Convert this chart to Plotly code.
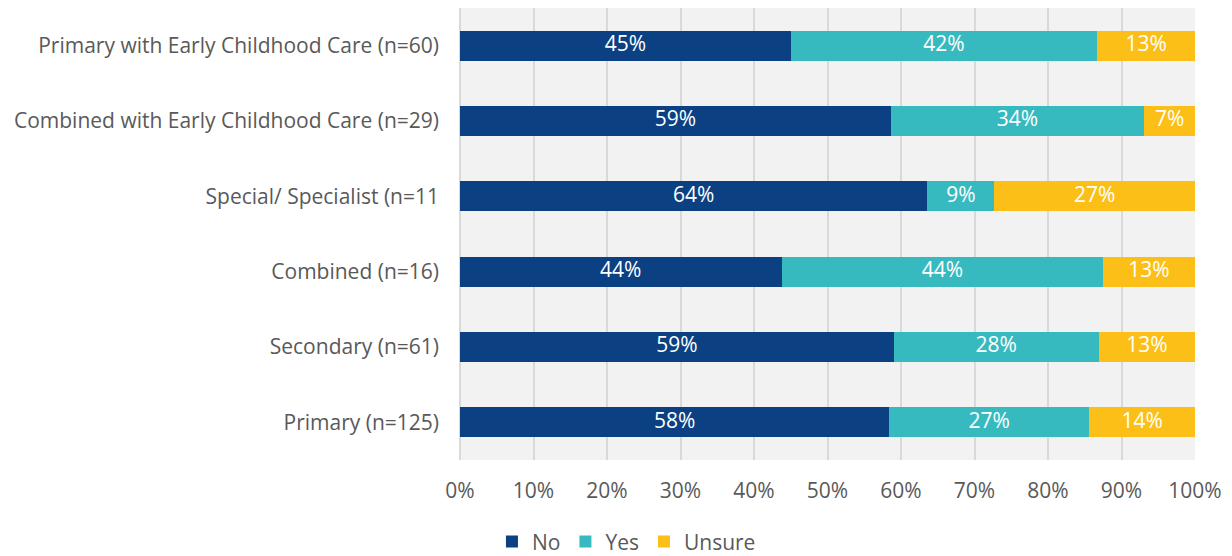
import plotly.graph_objects as go

# Data (bottom to top, as drawn)
categories = [
    "Primary (n=125)",
    "Secondary (n=61)",
    "Combined (n=16)",
    "Special/ Specialist (n=11",
    "Combined with Early Childhood Care (n=29)",
    "Primary with Early Childhood Care (n=60)",
]
no_vals = [58.4, 59.0, 43.75, 63.6, 58.6, 45.0]
yes_vals = [27.2, 27.9, 43.75, 9.1, 34.5, 41.7]
unsure_vals = [14.4, 13.1, 12.5, 27.3, 6.9, 13.3]
no_text = ["58%", "59%", "44%", "64%", "59%", "45%"]
yes_text = ["27%", "28%", "44%", "9%", "34%", "42%"]
unsure_text = ["14%", "13%", "13%", "27%", "7%", "13%"]
x_ticks = [0, 10, 20, 30, 40, 50, 60, 70, 80, 90, 100]

series = [
    ("No", no_vals, no_text, "#0b4183"),
    ("Yes", yes_vals, yes_text, "#37babf"),
    ("Unsure", unsure_vals, unsure_text, "#fcbf17"),
]

fig = go.Figure()
base = [0.0] * len(categories)
for name, vals, txt, color in series:
    fig.add_trace(go.Bar(
        y=categories, x=vals, name=name, orientation="h",
        marker=dict(color=color, line=dict(width=0)),
        hoverinfo="skip",
    ))
    # labels at segment centres, full size (bars would shrink them)
    mids = [b + v / 2 for b, v in zip(base, vals)]
    fig.add_trace(go.Scatter(
        x=mids, y=categories, mode="text", text=txt,
        textposition="middle center",
        textfont=dict(color="white", size=21),
        showlegend=False, hoverinfo="skip",
    ))
    base = [b + v for b, v in zip(base, vals)]

fig.update_layout(
    barmode="stack",
    bargap=0.6,
    width=1232, height=556,
    margin=dict(l=452, r=45, t=0, b=104),
    paper_bgcolor="white",
    plot_bgcolor="#f2f2f2",
    font=dict(family="Open Sans, Noto Sans, sans-serif", size=21, color="#595959"),
    legend=dict(
        orientation="h", xref="container", yref="container",
        x=0.502, xanchor="center", y=0.04, yanchor="middle",
        font=dict(size=21, color="#595959"), traceorder="normal",
        itemwidth=30,
    ),
    showlegend=True,
)
fig.update_xaxes(
    range=[0, 100], tickvals=x_ticks,
    ticktext=[f"{t}%" for t in x_ticks],
    showgrid=True, gridcolor="#d9d9d9", gridwidth=2,
    zeroline=True, zerolinecolor="#d9d9d9", zerolinewidth=2,
    showline=False, ticks="", ticklabelstandoff=16,
    fixedrange=True,
)
fig.update_yaxes(
    showgrid=False, ticks="", ticklabelstandoff=20,
    categoryorder="array", categoryarray=categories,
)

fig.write_html("out.html")
